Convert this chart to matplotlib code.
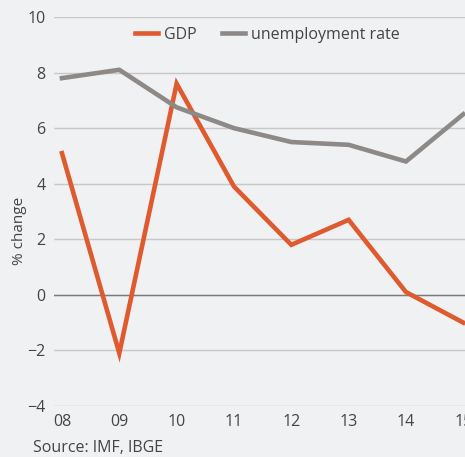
import numpy as np
import matplotlib.pyplot as plt

plt.rcParams['font.family'] = ['Open Sans', 'DejaVu Sans']

# data
years = [2008, 2009, 2010, 2011, 2012, 2013, 2014, 2015]
year_labels = ['08', '09', '10', '11', '12', '13', '14', '15']
gdp = [5.1, -2.1, 7.6, 3.9, 1.8, 2.7, 0.1, -1.0]
unemployment = [7.8, 8.1, 6.75, 6.0, 5.5, 5.4, 4.8, 6.5]

bg = '#f0f1f3'
fig = plt.figure(figsize=(4.65, 4.57), dpi=100, facecolor=bg)
ax = fig.add_axes([0.116, 0.1116, 0.884, 0.8512], facecolor=bg)

ax.plot(years, gdp, color='#e05a2f', lw=3.3, label='GDP', solid_joinstyle='miter')
ax.plot(years, unemployment, color='#8d8987', lw=3.3, label='unemployment rate',
        solid_joinstyle='miter')

ax.set_xlim(2007.86, 2015.03)
ax.set_ylim(-4, 10)
ax.set_yticks(np.arange(-4, 11, 2))
ax.set_xticks(years)
ax.set_xticklabels(year_labels)
ax.grid(axis='y', color='#c8c8c8', lw=1)
ax.axhline(0, color='#7a7a7a', lw=1, zorder=1)
ax.set_axisbelow(True)
for s in ax.spines.values():
    s.set_visible(False)
ax.tick_params(length=0, labelsize=11.5, colors='#444444')
ax.tick_params(axis='x', pad=6)
ax.tick_params(axis='y', pad=6)

ax.set_ylabel('% change', fontsize=11, color='#444444')
ax.yaxis.set_label_coords(-0.066, 0.45)

ax.legend(loc='upper center', bbox_to_anchor=(0.52, 1.012), ncol=2, frameon=False,
          fontsize=11.5, handlelength=1.4, columnspacing=1.6, handletextpad=0.4,
          labelcolor='#444444')

fig.text(0.071, 0.012, 'Source: IMF, IBGE', fontsize=11.5, color='#444444')

fig.savefig('out.png', dpi=100, facecolor=bg)
